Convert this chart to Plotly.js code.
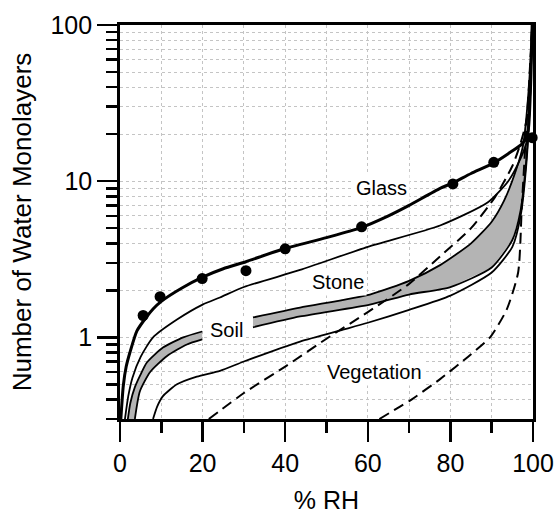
<!DOCTYPE html>
<html><head><meta charset="utf-8">
<script src="https://cdn.plot.ly/plotly-3.0.1.min.js"></script>
<style>html,body{margin:0;padding:0;background:#fff}#chart{width:556px;height:514px}</style>
</head><body><div id="chart"></div>
<script>
// Glass (thick line) and measured points
const glassX = [0.2, 0.8, 1.5, 2.4, 4.1, 6.5, 8, 10, 15, 20, 25, 30.5, 39, 50, 58, 65, 70, 77.5, 80.4, 85, 90.3, 94, 97.5, 98.8, 99.4, 99.8];
const glassY = [0.3, 0.49, 0.65, 0.8, 1.1, 1.36, 1.52, 1.7, 2.07, 2.43, 2.75, 3.05, 3.64, 4.35, 5.0, 6.0, 7.0, 9.0, 9.7, 11.2, 13.0, 15.0, 17.5, 21, 40, 100];
const glassDotX = [5.6, 9.7, 19.9, 30.5, 40, 58.5, 80.6, 90.5, 99.8];
const glassDotY = [1.38, 1.82, 2.38, 2.67, 3.69, 5.1, 9.6, 13.2, 19];
// Stone (two thin solid lines)
const stoneUpX = [1.2, 2, 3, 5, 8, 13.8, 20, 24.2, 30, 43.6, 60, 77.5, 89, 94, 97, 98.5, 99.3, 99.8];
const stoneUpY = [0.3, 0.42, 0.55, 0.75, 1.0, 1.3, 1.62, 1.8, 2.1, 2.7, 3.8, 5.2, 7.3, 10, 14, 18, 35, 100];
const stoneLowX = [8, 9, 10.4, 13.8, 18.6, 24.2, 30, 43.6, 54, 60, 70, 80, 90, 95, 97, 98.5, 99.3, 99.8];
const stoneLowY = [0.3, 0.36, 0.42, 0.5, 0.56, 0.61, 0.7, 0.94, 1.12, 1.24, 1.5, 1.85, 2.6, 3.8, 6, 14, 35, 100];
// Soil (shaded band, interrupted by its label)
const soilTopLeftX = [1.9, 2.5, 3.6, 5, 6.5, 10.4, 15.3, 19.9];
const soilTopLeftY = [0.3, 0.38, 0.48, 0.58, 0.69, 0.86, 1.0, 1.09];
const soilBotLeftX = [3.6, 4.8, 7.3, 11.4, 16.2, 19.9];
const soilBotLeftY = [0.3, 0.45, 0.6, 0.76, 0.9, 0.97];
const soilTopRightX = [32.2, 43.6, 60.5, 70, 77.5, 85, 90, 93, 96, 97.6, 99, 99.8];
const soilTopRightY = [1.34, 1.55, 1.88, 2.3, 2.9, 4.0, 5.5, 7.5, 12, 17, 40, 100];
const soilBotRightX = [32.2, 43.6, 60.5, 70, 80, 90, 95, 97, 98.5, 99.3, 99.8];
const soilBotRightY = [1.16, 1.36, 1.62, 1.88, 2.1, 2.8, 4.2, 6.5, 15, 35, 100];
// Vegetation (two dashed lines)
const vegUpX = [21.5, 30, 40, 50, 60, 70, 77.5, 85, 90.8, 95, 97, 98.5, 99.3, 99.8];
const vegUpY = [0.3, 0.44, 0.65, 0.98, 1.45, 2.2, 3.3, 5.0, 7.9, 12.5, 17.5, 25, 45, 100];
const vegLowX = [62.8, 67.8, 70, 77.5, 85, 89.6, 93.6, 96.4, 97.3, 98.2, 99, 99.8];
const vegLowY = [0.3, 0.36, 0.39, 0.54, 0.78, 1.0, 1.5, 2.6, 7, 18, 40, 100];
// Axes
const xTickVals = [0, 20, 40, 60, 80, 100];
const xMinorVals = [10, 30, 50, 70, 90];
const yTickVals = [1, 10, 100];
const yTickText = ['1', '10', '100'];
const yMinorVals = [0.3, 0.4, 0.5, 0.6, 0.7, 0.8, 0.9, 2, 3, 4, 5, 6, 7, 8, 9, 20, 30, 40, 50, 60, 70, 80, 90];
// Labels
const labelText = ['Glass', 'Stone', 'Soil', 'Vegetation'];
const labelX = [63.2, 52.8, 25.9, 61.7];
const labelY = [9.0, 2.27, 1.12, 0.598];

function band(tx, ty, bx, by) {
  return {x: tx.concat(bx.slice().reverse()), y: ty.concat(by.slice().reverse()),
    mode: 'lines', fill: 'toself', fillcolor: '#b4b4b4', line: {width: 0}, hoverinfo: 'skip', showlegend: false};
}
function line(x, y, w, dash) {
  return {x: x, y: y, mode: 'lines', line: {color: '#000', width: w, dash: dash || 'solid', shape: 'spline', smoothing: 0.6}, showlegend: false};
}
const traces = [
  band(soilTopLeftX, soilTopLeftY, soilBotLeftX, soilBotLeftY),
  band(soilTopRightX, soilTopRightY, soilBotRightX, soilBotRightY),
  line(soilTopLeftX, soilTopLeftY, 1.8), line(soilBotLeftX, soilBotLeftY, 1.8),
  line(soilTopRightX, soilTopRightY, 1.8), line(soilBotRightX, soilBotRightY, 1.8),
  line(stoneUpX, stoneUpY, 1.8), line(stoneLowX, stoneLowY, 1.8),
  line(vegUpX, vegUpY, 2, '11px,6px'), line(vegLowX, vegLowY, 2, '11px,6px'),
  line(glassX, glassY, 3),
  {x: glassDotX, y: glassDotY, mode: 'markers', marker: {color: '#000', size: 11}, cliponaxis: false, showlegend: false}
];
const grid = {gridcolor: '#c4c4c4', griddash: 'dot', gridwidth: 1};
const fontFam = 'Liberation Sans, Arial, sans-serif';
const layout = {
  width: 556, height: 514, paper_bgcolor: '#fff', plot_bgcolor: '#fff',
  margin: {l: 120, r: 23, t: 25, b: 95}, showlegend: false,
  font: {family: fontFam, color: '#000'},
  xaxis: Object.assign({range: [0, 100], tickmode: 'array', tickvals: xTickVals, ticks: 'outside', ticklen: 20, tickwidth: 2.5,
    tickcolor: '#000', showline: true, linewidth: 2.8, linecolor: '#000', mirror: true, zeroline: false, showgrid: true,
    tickfont: {size: 25}, title: {text: '% RH', font: {size: 25}, standoff: 16},
    minor: Object.assign({tickmode: 'array', tickvals: xMinorVals, ticks: 'outside', ticklen: 11, tickwidth: 2.5, tickcolor: '#000', showgrid: true}, grid)}, grid),
  yaxis: Object.assign({type: 'log', range: [Math.log10(0.3), 2], tickmode: 'array', tickvals: yTickVals, ticktext: yTickText,
    ticks: 'outside', ticklen: 20, tickwidth: 2.5, tickcolor: '#000', showline: true, linewidth: 2.8, linecolor: '#000', mirror: true,
    zeroline: false, showgrid: true, tickfont: {size: 25}, title: {text: 'Number of Water Monolayers', font: {size: 26}, standoff: 12},
    minor: Object.assign({tickmode: 'array', tickvals: yMinorVals, ticks: 'outside', ticklen: 11, tickwidth: 2.5, tickcolor: '#000', showgrid: true}, grid)}, grid),
  annotations: labelText.map((t, i) => ({x: labelX[i], y: Math.log10(labelY[i]), text: t, showarrow: false,
    font: {size: 20, family: fontFam, color: '#000'}, bgcolor: '#fff', borderpad: 2}))
};
Plotly.newPlot('chart', traces, layout, {staticPlot: true, displayModeBar: false});
</script></body></html>
